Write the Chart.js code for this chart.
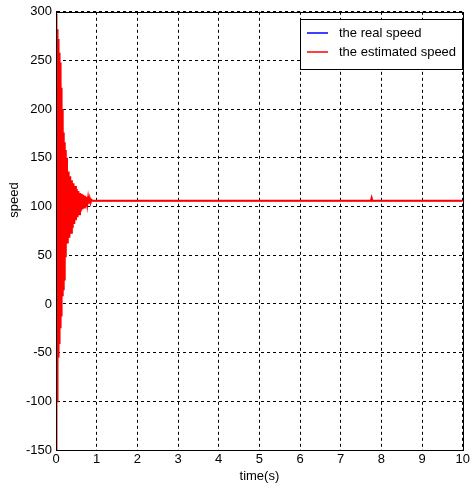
<!DOCTYPE html>
<html>
<head>
<meta charset="utf-8">
<script src="https://cdn.jsdelivr.net/npm/chart.js@4"></script>
<style>
  html, body { margin: 0; padding: 0; background: #fff; }
  #wrap { width: 472px; height: 491px; }
</style>
</head>
<body>
<div id="wrap"><canvas id="speedChart"></canvas></div>
<script>
// x ticks / y ticks
const timeTicks = [0, 1, 2, 3, 4, 5, 6, 7, 8, 9, 10];
const speedTicks = [-150, -100, -50, 0, 50, 100, 150, 200, 250, 300];

// the real speed
const realTime  = [0, 0.005, 0.01, 0.015, 0.02, 0.03, 0.04, 0.05, 0.07, 0.09, 0.12, 0.15, 0.2, 0.3, 10];
const realSpeed = [0, 150, 20, 140, 60, 130, 80, 120, 95, 112, 100, 108, 105, 106, 106];

// the estimated speed (oscillates hard at start, settles near 106)
const estTime = [0, 0.004, 0.008, 0.012, 0.016, 0.02, 0.025, 0.03, 0.035, 0.04, 0.045, 0.05,
  0.055, 0.06, 0.065, 0.07, 0.075, 0.08, 0.085, 0.09, 0.095, 0.1, 0.105, 0.11, 0.115, 0.12,
  0.125, 0.13, 0.135, 0.14, 0.145, 0.15, 0.16, 0.17, 0.18, 0.19, 0.2, 0.21, 0.22, 0.23, 0.24, 0.25,
  0.27, 0.29, 0.31, 0.33, 0.35, 0.37, 0.39, 0.41, 0.43, 0.45, 0.47, 0.49, 0.51, 0.53, 0.55,
  0.57, 0.59, 0.61, 0.63, 0.65, 0.67, 0.69, 0.71, 0.73, 0.75, 0.77, 0.79, 0.81, 0.83, 0.85,
  0.87, 0.9, 7.74, 7.76, 7.78, 10];
const estSpeed = [0, 298, -150, 292, -130, 288, -100, 282, -85, 276, -70, 272,
  -55, 268, -45, 264, -40, 258, -35, 252, -30, 248, -25, 240, -20, 232,
  -12, 222, -5, 212, 0, 200, 8, 188, 15, 176, 25, 166, 35, 158, 48, 150,
  142, 62, 136, 68, 131, 73, 127, 78, 124, 82, 121, 86, 118, 89, 116,
  92, 114, 95, 113, 97, 112, 99, 111, 100, 110, 102, 109, 103, 108, 104,
  107, 106, 106, 109, 106, 106];

const seriesNames = ['the real speed', 'the estimated speed'];
const seriesColors = ['#0000ff', '#ff0000'];

const fontFamily = '"Liberation Sans Narrow", "Liberation Sans", Arial';
const tickFont = { family: fontFamily, size: 13 };

function toPoints(xs, ys) {
  return xs.map((x, i) => ({ x: x, y: ys[i] }));
}

// box round the plot, axis titles, legend inside top right
const boxAndLegend = {
  id: 'boxAndLegend',
  afterDraw(chart) {
    const ctx = chart.ctx;
    const a = chart.chartArea;
    ctx.save();
    ctx.strokeStyle = '#000';
    ctx.lineWidth = 1;
    ctx.setLineDash([]);
    ctx.strokeRect(Math.round(a.left) + 0.5, Math.round(a.top) + 0.5,
      Math.round(a.right - a.left), Math.round(a.bottom - a.top));

    ctx.fillStyle = '#000';
    ctx.font = '13px ' + fontFamily;
    ctx.textAlign = 'center';
    ctx.textBaseline = 'middle';
    ctx.fillText('time(s)', (a.left + a.right) / 2, 476);
    ctx.save();
    ctx.translate(14, 200);
    ctx.rotate(-Math.PI / 2);
    ctx.fillText('speed', 0, 0);
    ctx.restore();

    const lx = 300, ly = 19, lw = 162, lh = 50;
    ctx.fillStyle = '#fff';
    ctx.fillRect(lx, ly, lw, lh);
    ctx.strokeRect(lx + 0.5, ly + 0.5, lw, lh);
    ctx.textAlign = 'left';
    chart.data.datasets.forEach((ds, i) => {
      const y = ly + 14 + i * 19;
      ctx.strokeStyle = ds.borderColor;
      ctx.lineWidth = 1.5;
      ctx.beginPath();
      ctx.moveTo(lx + 7, y);
      ctx.lineTo(lx + 28, y);
      ctx.stroke();
      ctx.fillStyle = '#000';
      ctx.fillText(ds.label, lx + 39, y);
    });
    ctx.restore();
  }
};

new Chart(document.getElementById('speedChart'), {
  type: 'line',
  data: {
    datasets: [{
      label: seriesNames[0],
      data: toPoints(realTime, realSpeed),
      borderColor: seriesColors[0],
      borderWidth: 1.2,
      pointRadius: 0,
      tension: 0,
      order: 2
    },
    {
      label: seriesNames[1],
      data: toPoints(estTime, estSpeed),
      borderColor: seriesColors[1],
      borderWidth: 2,
      pointRadius: 0,
      tension: 0,
      order: 1
    }]
  },
  plugins: [boxAndLegend],
  options: {
    responsive: true,
    maintainAspectRatio: false,
    animation: false,
    layout: { padding: { top: 11, right: 2, left: 0, bottom: 0 } },
    plugins: {
      legend: { display: false },
      tooltip: { enabled: false }
    },
    scales: {
      x: {
        type: 'linear',
        min: 0,
        max: 10,
        afterBuildTicks: (s) => { s.ticks = timeTicks.map(v => ({ value: v })); },
        afterFit: (s) => { s.height = 41; },
        ticks: { color: '#000', font: tickFont, padding: 2, maxRotation: 0 },
        grid: { color: '#000', drawTicks: false },
        border: { color: '#000', dash: [3, 3] }
      },
      y: {
        type: 'linear',
        min: -150,
        max: 300,
        afterBuildTicks: (s) => { s.ticks = speedTicks.map(v => ({ value: v })); },
        afterFit: (s) => { s.width = 56; },
        ticks: { color: '#000', font: tickFont, padding: 4 },
        grid: { color: '#000', drawTicks: false },
        border: { color: '#000', dash: [3, 3] }
      }
    }
  }
});
</script>
</body>
</html>
